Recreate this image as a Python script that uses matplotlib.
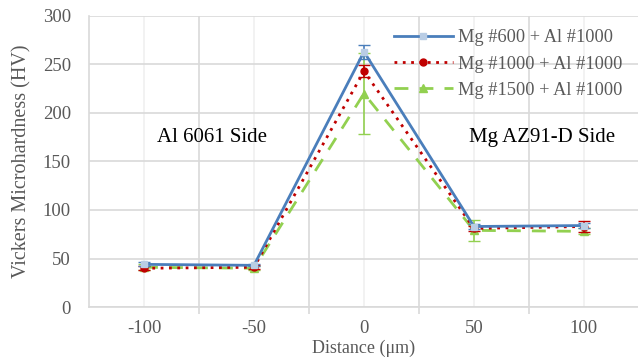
import numpy as np
import matplotlib.pyplot as plt
from matplotlib.lines import Line2D

plt.rcParams['font.family'] = ['Liberation Serif', 'DejaVu Serif']
plt.rcParams['axes.unicode_minus'] = False

distance = [-100, -50, 0, 50, 100]
mg600 = [44, 43, 263, 83, 84]
mg600_err = [2, 1, 7, 3, 3]
mg1000 = [40, 41, 243, 81, 83]
mg1000_err = [2, 2, 6, 3, 6]
mg1500 = [41, 40, 220, 79, 78]
mg1500_err = [3, 2, 42, 11, 3]
labels = ['Mg #600 + Al #1000', 'Mg #1000 + Al #1000', 'Mg #1500 + Al #1000']

txt = '#595959'

fig = plt.figure(figsize=(6.38, 3.6), dpi=100)
ax = fig.add_axes([0.1395, 0.147, 0.862, 0.809])

styles = [
    dict(color='#4a7ebb', ls='-', marker='s', ms=5, mfc='#b9cde5', mec='#b9cde5'),
    dict(color='#c00000', ls=(0, (1, 2)), marker='o', ms=5, mfc='#c00000', mec='#c00000'),
    dict(color='#92d050', ls=(0, (5, 4)), marker='^', ms=6, mfc='#92d050', mec='#92d050'),
]
series = [(mg600, mg600_err), (mg1000, mg1000_err), (mg1500, mg1500_err)]

handles = []
for i, ((vals, err), st) in enumerate(zip(series, styles)):
    ax.errorbar(distance, vals, yerr=err, lw=2, ecolor=st['color'], elinewidth=1.2,
                capsize=4, zorder=5 - i, **st)
    handles.append(Line2D([], [], lw=2, **st))

ax.set_xlim(-125, 125)
ax.set_ylim(0, 300)
ax.set_xticks(distance)
ax.set_xticks([-75, -25, 25, 75], minor=True)
ax.set_yticks(np.arange(0, 301, 50))

# gridlines like excel: category lines light, boundary lines darker
ax.grid(axis='y', color='#d9d9d9', lw=1.2)
ax.grid(axis='x', which='major', color='#f0f0f0', lw=1.2)
ax.grid(axis='x', which='minor', color='#d9d9d9', lw=1.2)
ax.set_axisbelow(True)

for s in ['top', 'right']:
    ax.spines[s].set_visible(False)
for s in ['bottom', 'left']:
    ax.spines[s].set_color('#d9d9d9')
    ax.spines[s].set_linewidth(1.2)

ax.tick_params(axis='x', which='major', length=0, pad=9, labelsize=13.5, labelcolor=txt)
ax.tick_params(axis='x', which='minor', length=5, color='#d9d9d9', width=1.2)
ax.tick_params(axis='y', length=0, pad=13, labelsize=13.5, labelcolor=txt)

ax.set_xlabel('Distance (μm)', fontsize=13, color=txt, labelpad=2)
ax.set_ylabel('Vickers Microhardness (HV)', fontsize=14.5, color=txt, labelpad=8)

ax.text(-69, 175, 'Al 6061 Side', fontsize=15, ha='center', va='center')
ax.text(81, 175, 'Mg AZ91-D Side', fontsize=15, ha='center', va='center')

leg = ax.legend(handles, labels, loc='upper right', frameon=False, fontsize=13.2,
                handlelength=3.2, handletextpad=0.3, labelspacing=0.5,
                bbox_to_anchor=(1.0, 1.01))
for t in leg.get_texts():
    t.set_color(txt)

fig.savefig('out.png', dpi=100)
